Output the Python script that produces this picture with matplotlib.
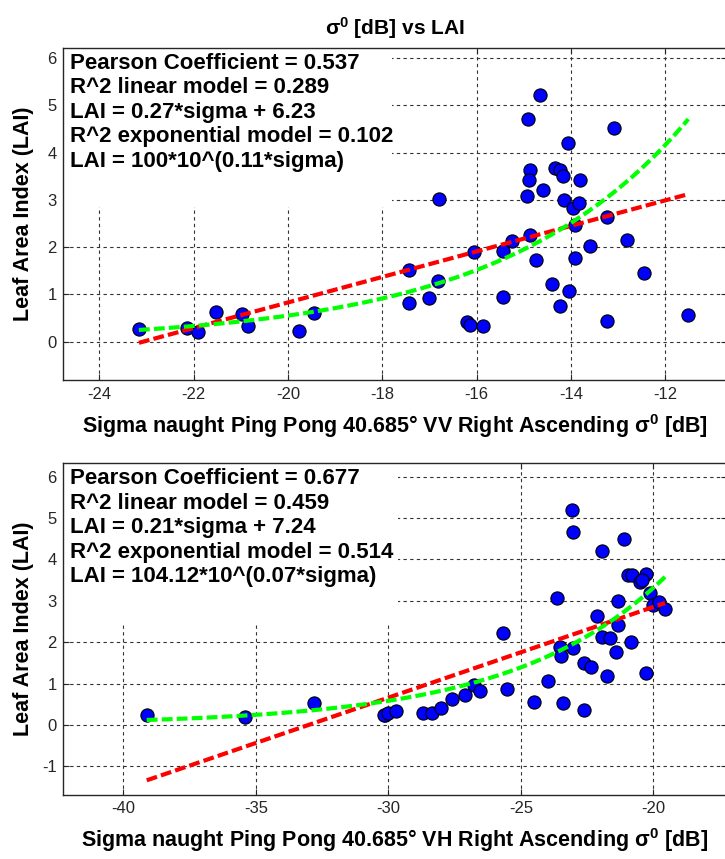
import numpy as np
import matplotlib.pyplot as plt
from matplotlib.patches import Rectangle

plt.rcParams['font.family'] = ['Liberation Sans', 'DejaVu Sans']
plt.rcParams['mathtext.default'] = 'regular'
plt.rcParams['axes.unicode_minus'] = False

# ---- VV panel (top) ----
vv_sigma = [-23.16, -22.15, -21.90, -21.52, -20.98, -20.84, -19.76, -19.44,
            -17.43, -17.43, -17.01, -16.82, -16.80, -16.21, -16.15, -15.87,
            -16.05, -15.45, -15.24, -15.43, -14.92, -14.65, -14.87, -14.89,
            -14.94, -14.60, -14.87, -14.75, -14.40, -14.24, -14.04, -14.33,
            -14.23, -14.16, -14.07, -13.81, -14.14, -13.96, -13.82, -13.91,
            -13.91, -13.59, -13.24, -13.24, -13.08, -12.81, -12.46, -11.51]
vv_lai = [0.26, 0.30, 0.20, 0.63, 0.58, 0.33, 0.23, 0.60,
          1.52, 0.82, 0.92, 1.29, 3.02, 0.42, 0.35, 0.33,
          1.89, 1.92, 2.14, 0.95, 4.71, 5.22, 3.63, 3.43,
          3.09, 3.22, 2.26, 1.73, 1.22, 0.75, 1.07, 3.67,
          3.64, 3.50, 4.21, 3.43, 3.00, 2.82, 2.93, 2.47,
          1.78, 2.02, 2.64, 0.44, 4.53, 2.16, 1.46, 0.56]
vv_lin = (0.27, 6.23)        # slope, intercept
vv_exp = (86.0, 0.1096)      # a * 10^(b*sigma)
vv_text = ['Pearson Coefficient = 0.537',
           'R^2 linear model = 0.289',
           'LAI = 0.27*sigma + 6.23',
           'R^2 exponential model = 0.102',
           'LAI = 100*10^(0.11*sigma)']

# ---- VH panel (bottom) ----
vh_sigma = [-39.12, -35.43, -32.79, -30.12, -30.16, -30.00, -29.71, -28.68,
            -28.36, -28.01, -27.61, -27.11, -26.75, -26.54, -25.66, -25.51,
            -24.50, -23.96, -23.65, -23.40, -23.52, -23.48, -23.08, -23.02,
            -23.04, -22.60, -22.61, -22.36, -22.11, -21.95, -21.95, -21.63,
            -21.76, -21.42, -21.34, -21.32, -21.11, -20.94, -20.82, -20.85,
            -20.50, -20.29, -20.42, -20.29, -20.12, -20.02, -19.77, -19.56]
vh_lai = [0.23, 0.19, 0.54, 0.23, 0.24, 0.30, 0.34, 0.28,
          0.28, 0.40, 0.63, 0.72, 0.97, 0.81, 2.23, 0.87,
          0.56, 1.05, 3.07, 0.52, 1.89, 1.67, 5.19, 4.65,
          1.85, 0.36, 1.49, 1.41, 2.62, 4.19, 2.13, 2.09,
          1.18, 1.76, 2.42, 3.00, 4.49, 3.62, 3.61, 2.00,
          3.46, 3.65, 3.50, 1.25, 3.18, 2.90, 2.98, 2.80]
vh_lin = (0.219, 7.23)
vh_exp = (106.7, 0.0754)
vh_text = ['Pearson Coefficient = 0.677',
           'R^2 linear model = 0.459',
           'LAI = 0.21*sigma + 7.24',
           'R^2 exponential model = 0.514',
           'LAI = 104.12*10^(0.07*sigma)']

W, H = 725, 859
fig = plt.figure(figsize=(W / 100, H / 100), dpi=100)


def draw_panel(ax, sig, lai, lin, expo, lines, xlabel, xlim, ylim, xticks, yticks, box):
    sig = np.array(sig)
    lai = np.array(lai)
    ax.set_xlim(xlim)
    ax.set_ylim(ylim)
    ax.set_xticks(xticks)
    ax.set_yticks(yticks)
    ax.grid(True, color='0.2', linestyle=(0, (3, 3)), linewidth=0.8)
    ax.set_axisbelow(True)

    # white background behind the statistics text
    ax.add_patch(Rectangle((0, 1 - box[1]), box[0], box[1], transform=ax.transAxes,
                           facecolor='white', edgecolor='none', zorder=1.5))

    ax.plot(sig, lai, 'o', color='blue', markeredgecolor='black',
            markeredgewidth=0.8, markersize=9.5, zorder=3)

    xs = np.linspace(sig.min(), sig.max(), 100)
    ax.plot(xs, lin[0] * xs + lin[1], color='red', lw=3, dashes=(2.6, 1.0), zorder=4)
    ax.plot(xs, expo[0] * 10 ** (expo[1] * xs), color='#00ff00', lw=3, dashes=(2.6, 1.0), zorder=4)

    ax.text(0.01, 0.985, '\n'.join(lines), transform=ax.transAxes, ha='left', va='top',
            fontsize=16, fontweight='bold', linespacing=1.22, zorder=5)

    ax.tick_params(direction='in', length=4, top=True, right=True, labelsize=12,
                   colors='0.15', width=0.8)
    ax.tick_params(axis='x', pad=5)
    ax.tick_params(axis='y', pad=4.5)
    for s in ax.spines.values():
        s.set_color('0.15')
        s.set_linewidth(1.0)

    ax.set_xlabel(xlabel, fontsize=15.5, fontweight='bold', labelpad=7)
    ax.set_ylabel('Leaf Area Index (LAI)', fontsize=15.5, fontweight='bold')
    ax.yaxis.set_label_coords(-0.044, 0.5)


ax1 = fig.add_axes([63 / W, 1 - 380 / H, 664 / W, 332.3 / H])
ax2 = fig.add_axes([63 / W, 1 - 794.5 / H, 664 / W, 331.2 / H])

draw_panel(ax1, vv_sigma, vv_lai, vv_lin, vv_exp, vv_text,
           'Sigma naught Ping Pong 40.685° VV Right Ascending σ$^0$ [dB]',
           (-24.77, -10.69), (-0.81, 6.22), [-24, -22, -20, -18, -16, -14, -12],
           [0, 1, 2, 3, 4, 5, 6], (0.495, 0.479))
draw_panel(ax2, vh_sigma, vh_lai, vh_lin, vh_exp, vh_text,
           'Sigma naught Ping Pong 40.685° VH Right Ascending σ$^0$ [dB]',
           (-42.28, -17.22), (-1.68, 6.32), [-40, -35, -30, -25, -20],
           [-1, 0, 1, 2, 3, 4, 5, 6], (0.505, 0.488))

ax1.set_title('σ$^0$ [dB] vs LAI', fontsize=15, fontweight='bold', pad=9)

fig.savefig('out.png', dpi=100)
